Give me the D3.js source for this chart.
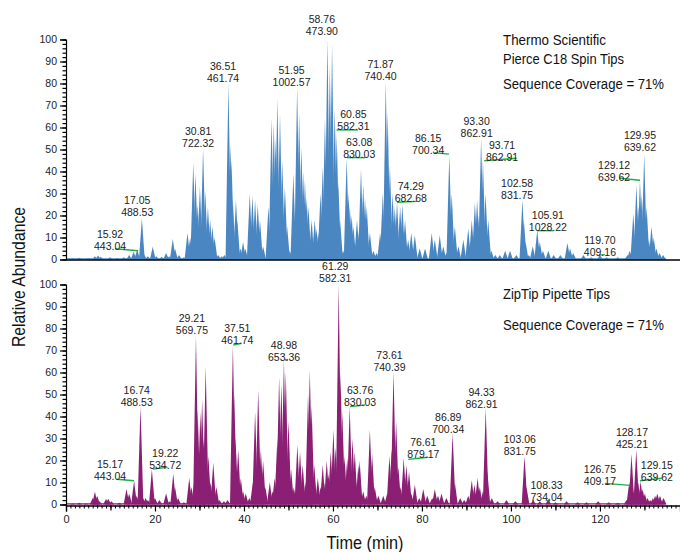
<!DOCTYPE html>
<html><head><meta charset="utf-8">
<script src="https://cdn.jsdelivr.net/npm/d3@7"></script>
<style>
body{margin:0;background:#fff;}
svg{display:block;font-family:"Liberation Sans",Arial,sans-serif;}
</style></head>
<body><svg id="c" width="680" height="552"></svg>
<script>
// ---------- DATA ----------
const topTimes = [1.5,3,5,6.5,7.2,7.8,9.9,11.5,13,14.2,15.2,16.0,17.05,17.6,18.4,19.5,20.3,21.5,22.5,23.2,24.0,24.5,25.4,26.5,27.3,27.9,28.6,29.1,29.6,30.1,30.81,31.3,31.9,32.4,32.9,33.4,34.2,35.0,35.6,36.51,37.0,37.2,37.5,38.2,38.5,39.2,39.8,40.3,41.3,41.9,42.5,43.1,43.6,44.3,45.5,46.2,46.7,47.1,47.5,48.1,48.6,49.2,49.7,50.3,51.1,51.95,52.4,52.9,53.3,53.7,54.1,54.5,55.2,55.9,56.3,56.7,57.2,57.7,58.2,58.76,59.3,59.8,60.4,60.85,61.2,61.6,62.3,63.08,63.5,63.8,64.2,64.6,65.4,65.9,66.3,66.8,67.2,67.6,68.3,69.1,69.8,70.6,71.2,71.87,72.3,72.8,73.4,73.9,74.4,75.1,75.6,76.2,76.9,77.6,78.4,79.5,80.7,82.2,82.9,84.0,84.8,85.5,86.15,86.7,87.4,88.2,89.3,90.4,91.2,91.9,92.4,92.8,93.3,93.71,94.3,94.9,95.6,96.5,97.5,98.7,99.8,101.2,102.58,102.9,103.3,104.0,104.9,105.91,106.5,107.2,108.4,109.6,111.1,112.7,113.3,114.0,116.3,118,120.0,121.5,124,126.2,126.7,127.5,128.2,128.6,129.0,129.4,129.95,130.5,131.0,131.6,132.1,132.7,133.4,134.2];
const topValues = [0.5,0.8,0.6,1.5,1.8,1.2,1.0,0.6,1.0,2,3.5,4.5,18.7,2,1.5,5.8,1.5,1.2,3,1.5,9.3,5,2,1,12,10,44,39,25,33,50.5,31,24,18,15,10,2,1.5,2,80,52,45,27,27,18,5,8,5,30,29,27,25,18,6,24,64,62,55,73,66,45,33,15,4,39,78.5,66,51,40,36,28,24,18,18,14,12,30,42,64,100,88,98,69,57,35,18,4,46,30,24,20,15,18,14,41,34,28,24,12,4,3,12,30,81,67,43,30,24,26,24,25,18,9,12,11,5,5,12,9,11,6,3,47.5,30,15,6,9,14,18,26,27,20,55,45,30,18,4,2,2,4,4,2,27,18,8,2,6,13.4,8,4,4,2,2,7.5,5,3,2,1,2,1,1,2,4,21,34,24,36,30,48,24,9,15,10,5,3,2];

const botTimes = [1.5,3,4.5,6.0,6.5,7.0,7.5,9.0,9.5,10.2,12,13.6,14.2,15.3,15.9,16.74,17.3,17.9,18.4,19.3,20.0,21.0,22.5,23.3,24.1,24.5,25.2,26.5,27.7,28.2,28.8,29.21,29.6,30.2,30.6,30.9,31.4,32.0,32.5,33.1,33.8,34.5,35.5,36.3,37.51,37.8,38.1,38.7,39.3,39.8,40.4,41.2,42.0,42.5,43.2,43.8,44.3,44.8,45.8,46.4,46.9,47.5,47.9,48.4,48.98,49.4,50.0,50.6,51.2,52.0,52.6,53.2,53.8,54.4,54.8,55.2,55.8,56.6,57.2,57.7,58.2,58.6,59.0,59.5,60.1,60.6,61.29,61.7,62.1,62.6,63.2,63.76,64.4,64.9,65.2,65.7,66.0,66.8,67.5,68.3,68.8,69.4,70.2,71.3,72.2,72.7,73.2,73.61,74.2,74.7,75.2,75.9,76.5,77.1,77.6,78.4,79.4,80.3,81.2,82.3,82.9,83.6,84.4,85.5,86.89,87.4,88.6,89.5,90.4,91.2,91.8,92.5,93.0,93.7,94.33,94.7,95.7,97,99,101,103.06,103.5,105,106.5,108.4,110,112.5,115,117,119.6,122,124,126.0,126.6,127.1,127.5,128.17,128.6,129.15,129.6,130.1,130.7,131.3,131.9,132.4,132.9,133.5,134.3];
const botValues = [0.5,0.8,0.5,3,5.8,4,1.5,2.5,2.6,1.5,0.8,7,5,10.8,4,44.5,3,3,2,16,3,2,5,1.5,14,8,3,1,12,8,10,76.6,43,42,47.5,30,62.6,22,10,19,8,2,1.5,2,72.5,50.5,30,25,12,6,5,3,10,42,52,25,20,8,10,6,12,30,58,55,65.7,60,38,16,8,27,24,18,10,50.5,61,45,18,12,8,18,10,20,14,24,34,26,100,60,42,22,21,44.5,30,24,10,18,20,6,4,34,23,8,4,4,5,22,25,60.4,38,17,8,21,18,15,5,9,3,7,4,3,7,4,5,3,32.3,10,3,2,4,11,9,12,8,6,43.7,15,3,1.5,2,1.5,22,8,2,1.5,2.5,1,1.5,1,1,1.5,1,0.8,2,10,23,6,24.8,10,10.5,7,5,3,2,3,4,5,4,3];

const yTickValues = [0,10,20,30,40,50,60,70,80,90,100];
const xTickLabels = [0,20,40,60,80,100,120];

// labels: [line1, line2, time centre, abundance at line 2]
const topLabels = [
 ["15.92","443.04",9.9,6.1],["17.05","488.53",16.0,21.3],["30.81","722.32",29.7,53],
 ["36.51","461.74",35.3,82.4],["51.95","1002.57",50.7,80.8],["58.76","473.90",57.5,103.9],
 ["60.85","582.31",64.6,60.7],["63.08","830.03",65.9,47.8],["71.87","740.40",70.7,83.4],
 ["74.29","682.68",77.5,27.8],["86.15","700.34",81.4,49.5],["93.30","862.91",92.3,57.4],
 ["93.71","862.91",98.0,46.7],["102.58","831.75",101.4,29],["105.91","1028.22",108.3,14.6],
 ["119.70","409.16",120.0,3.3],["129.12","639.62",123.2,37.6],["129.95","639.62",129.0,51]
];
// green leader lines: [t1, v1, t2, v2]
const topLeaders = [
 [11.0,4.9,16.2,4.0],[60.8,58.9,65.6,58.9],[63.2,46.3,67.2,46.3],[74.4,26,78.9,26.4],
 [82.9,48.5,86.1,47.9],[94.0,44.9,101.3,46],[106,13.1,109.5,13.1],[119.8,2,121.1,2.2],
 [124.4,36.9,129.0,36]
];
const botLabels = [
 ["15.17","443.04",9.9,13],["16.74","488.53",15.9,46.7],["19.22","534.72",22.3,18],
 ["29.21","569.75",28.3,79],["37.51","461.74",38.5,74.5],["48.98","653.36",49.0,66.9],
 ["61.29","582.31",60.5,102.8],["63.76","830.03",66.1,46.5],["73.61","740.39",72.7,62.6],
 ["76.61","879.17",80.3,22.8],["86.89","700.34",85.9,34.3],["94.33","862.91",93.4,45.7],
 ["103.06","831.75",102.0,24.3],["108.33","734.04",108.0,3.3],["126.75","409.17",120.0,10.8],
 ["128.17","425.21",127.2,27.4],["129.15","639.62",132.8,12.6]
];
const botLeaders = [
 [11.4,11.5,15.3,10.8],[19.5,16.1,22.8,16.9],[37.6,72.5,39.5,73.3],[49.2,65.7,49.9,65.9],
 [63.8,44.5,67.2,45.2],[76.9,20.5,81.4,21.5],[108.2,1.7,108.8,2.5],[121.1,9.6,126.8,8.7],
 [129.0,10.8,133.9,11.9]
];

// ---------- DRAW ----------
const svg = d3.select("#c");
const x = d3.scaleLinear().domain([0,138]).range([66,680]);
const yTop = d3.scaleLinear().domain([0,100]).range([259.5,39.5]);
const yBot = d3.scaleLinear().domain([0,100]).range([504.5,284.5]);
const HW = 0.65;

function panel(y, times, values, color, labels, leaders){
  const g = svg.append("g");
  const area = d3.area().x(p=>x(p[0])).y0(y(0)).y1(p=>y(p[1]));
  g.append("path").attr("d", area([[0,0.6],[134.8,0.6]])).attr("fill",color);
  g.selectAll("path.pk").data(d3.zip(times, values)).join("path").attr("class","pk")
    .attr("d", d => area([[d[0]-HW,0],[d[0],d[1]],[d[0]+HW,0]]))
    .attr("fill", color);
  g.selectAll("line.ld").data(leaders).join("line").attr("class","ld")
    .attr("x1",d=>x(d[0])).attr("y1",d=>y(d[1])).attr("x2",d=>x(d[2])).attr("y2",d=>y(d[3]))
    .attr("stroke","#1fae4b").attr("stroke-width",1.4);
  const lt = g.selectAll("g.lb").data(labels).join("g").attr("class","lb")
    .attr("transform", d=>`translate(${x(d[2])},${y(d[3])})`);
  lt.append("text").attr("text-anchor","middle").attr("y",-12).attr("dy","0.36em")
    .attr("font-size",10.5).attr("fill","#222").text(d=>d[0]);
  lt.append("text").attr("text-anchor","middle").attr("y",0).attr("dy","0.36em")
    .attr("font-size",10.5).attr("fill","#222").text(d=>d[1]);
  const ya = g.append("g").attr("transform","translate(66,0)")
    .call(d3.axisLeft(y).tickValues(yTickValues).tickSize(6).tickPadding(3));
  ya.selectAll("text").attr("font-size",10.5).attr("fill","#222").attr("font-family","Liberation Sans, Arial");
  ya.select(".domain").attr("stroke","#000").attr("stroke-width",1.2);
  ya.selectAll(".tick line").attr("stroke","#000").attr("stroke-width",1.2);
  const ym = g.append("g").attr("transform","translate(66,0)")
    .call(d3.axisLeft(y).tickValues(d3.range(0,101,2)).tickSize(3.5).tickFormat(""));
  ym.select(".domain").remove();
  ym.selectAll(".tick line").attr("stroke","#000").attr("stroke-width",1.2);
  return g;
}

panel(yTop, topTimes, topValues, "#4a87c2", topLabels, topLeaders);
svg.append("line").attr("x1",66).attr("x2",680).attr("y1",yTop(0)+0.5).attr("y2",yTop(0)+0.5)
  .attr("stroke","#000").attr("stroke-width",1.3);

panel(yBot, botTimes, botValues, "#8a1f74", botLabels, botLeaders);

const xa = svg.append("g").attr("transform",`translate(0,${yBot(0)+1})`)
  .call(d3.axisBottom(x).tickValues(xTickLabels).tickSize(6).tickPadding(4));
xa.select(".domain").attr("stroke","#000").attr("stroke-width",1.3);
xa.selectAll(".tick line").attr("stroke","#000").attr("stroke-width",1.2);
xa.selectAll("text").attr("font-size",11).attr("fill","#222").attr("font-family","Liberation Sans, Arial");
const xm = svg.append("g").attr("transform",`translate(0,${yBot(0)+1})`)
  .call(d3.axisBottom(x).tickValues(d3.range(0,139,1)).tickSize(3).tickFormat(""));
xm.select(".domain").remove();
xm.selectAll(".tick line").attr("stroke","#000").attr("stroke-width",1);
const xmm = svg.append("g").attr("transform",`translate(0,${yBot(0)+1})`)
  .call(d3.axisBottom(x).tickValues(d3.range(10,139,20)).tickSize(5).tickFormat(""));
xmm.select(".domain").remove();
xmm.selectAll(".tick line").attr("stroke","#000").attr("stroke-width",1.2);

// titles (condensed via horizontal scale)
const SX = 0.86;
svg.append("text").attr("transform",`translate(365,549) scale(${SX},1)`).attr("text-anchor","middle")
  .attr("font-size",18).attr("textLength",77/SX).attr("lengthAdjust","spacingAndGlyphs")
  .attr("fill","#111").text("Time (min)");
svg.append("text").attr("transform",`translate(25,277) rotate(-90) scale(${SX},1)`).attr("text-anchor","middle")
  .attr("font-size",18).attr("textLength",140/SX).attr("lengthAdjust","spacingAndGlyphs")
  .attr("fill","#111").text("Relative Abundance");

const legend = [
  ["Thermo Scientific",503,45,103],["Pierce C18 Spin Tips",503,63.5,121],
  ["Sequence Coverage = 71%",503,88.5,161],
  ["ZipTip Pipette Tips",503,298.5,107],["Sequence Coverage = 71%",503,330,161]
];
svg.selectAll("text.lg").data(legend).join("text").attr("class","lg")
  .attr("transform",d=>`translate(${d[1]},${d[2]}) scale(${SX},1)`)
  .attr("font-size",15.5).attr("fill","#111")
  .attr("textLength",d=>d[3]/SX).attr("lengthAdjust","spacingAndGlyphs").text(d=>d[0]);
</script></body></html>
